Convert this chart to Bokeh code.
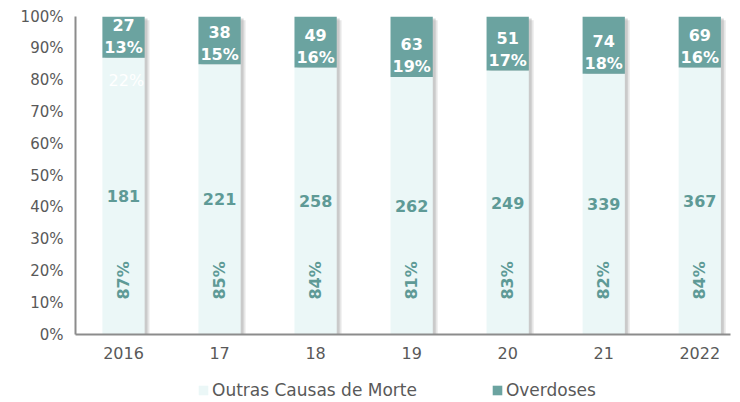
import math
from bokeh.plotting import figure
from bokeh.layouts import column
from bokeh.models import ColumnDataSource, Legend, LegendItem, FixedTicker, Range1d
from bokeh.core.properties import value
from bokeh.embed import file_html
from bokeh.resources import INLINE

years = ["2016", "17", "18", "19", "20", "21", "2022"]
overdoses = [27, 38, 49, 63, 51, 74, 69]
outras = [181, 221, 258, 262, 249, 339, 367]
pct_over = [13, 15, 16, 19, 17, 18, 16]
pct_outras = [87, 85, 84, 81, 83, 82, 84]
series_names = ["Outras Causas de Morte", "Overdoses"]
y_ticks = list(range(0, 101, 10))
y_tick_labels = {t: f"{t}%" for t in y_ticks}

LIGHT = "#EBF7F7"
DARK = "#6BA3A0"
TEAL_TXT = "#5E9A96"
GREY_TXT = "#595959"
AXIS = "#8C8C8C"
FONT = "DejaVu Sans"

xs = list(range(len(years)))
src = ColumnDataSource(dict(
    x=xs,
    xs=[v + 0.05 for v in xs],
    xs2=[v + 0.03 for v in xs],
    year=years,
    over=[str(v) for v in overdoses],
    outr=[str(v) for v in outras],
    po=[f"{v}%" for v in pct_over],
    pr=[f"{v}%" for v in pct_outras],
    b=pct_outras,
    mid_light=[v / 2 for v in pct_outras],
    pct_y=[v + 3.2 for v in pct_outras],
    cnt_y=[v + 10.2 for v in pct_outras],
    rot_y=[17] * len(years),
    top=[100] * len(years),
))

p = figure(frame_width=655, frame_height=318, x_range=Range1d(-0.5, 6.32), y_range=Range1d(0, 100),
           output_backend="svg", toolbar_location=None,
           min_border_left=75, min_border_right=2, min_border_top=16, min_border_bottom=38)
p.outline_line_color = None
p.xgrid.visible = False
p.ygrid.visible = False

# shadow
p.vbar(x="xs", width=0.44, bottom=0, top=98.8, source=src, fill_color="#B8B8B8",
       fill_alpha=0.35, line_color=None)
p.vbar(x="xs2", width=0.44, bottom=0, top=99.4, source=src, fill_color="#A8A8A8",
       fill_alpha=0.45, line_color=None)
light = p.vbar(x="x", width=0.44, bottom=0, top="b", source=src, fill_color=LIGHT, line_color=None)
dark = p.vbar(x="x", width=0.44, bottom="b", top="top", source=src, fill_color=DARK, line_color=None)

# labels in overdose segment
p.text(x="x", y="cnt_y", text="over", source=src, text_color="white", text_font=value(FONT),
       text_font_size="16px", text_font_style="bold", text_align="center", text_baseline="middle")
p.text(x="x", y="pct_y", text="po", source=src, text_color="white", text_font=value(FONT),
       text_font_size="16px", text_font_style="bold", text_align="center", text_baseline="middle")
# labels in other segment
p.text(x="x", y="mid_light", text="outr", source=src, text_color=TEAL_TXT, text_font=value(FONT),
       text_font_size="16px", text_font_style="bold", text_align="center", text_baseline="middle")
p.text(x="x", y="rot_y", text="pr", source=src, text_color=TEAL_TXT, text_font=value(FONT),
       text_font_size="16px", text_font_style="bold", text_align="center", text_baseline="middle",
       angle=math.pi / 2)

# stray white label seen on the first bar
ghost_x = [0.03]
ghost_y = [80]
ghost_t = ["22%"]
p.text(x=ghost_x, y=ghost_y, text=ghost_t, text_color="white", text_font=value(FONT),
       text_font_size="16px", text_align="center", text_baseline="middle")

p.xaxis.ticker = FixedTicker(ticks=xs)
p.xaxis.major_label_overrides = {i: y for i, y in enumerate(years)}
p.yaxis.ticker = FixedTicker(ticks=y_ticks)
p.yaxis.major_label_overrides = y_tick_labels
for ax in (p.xaxis, p.yaxis):
    ax.major_tick_line_color = None
    ax.minor_tick_line_color = None
    ax.major_tick_out = 0
    ax.major_tick_in = 0
    ax.axis_line_color = AXIS
    ax.axis_line_width = 2
    ax.major_label_text_color = GREY_TXT
    ax.major_label_text_font = FONT
    ax.major_label_text_font_size = "15px"
p.xaxis.major_label_text_font_size = "16px"
p.xaxis.major_label_standoff = 12
p.yaxis.major_label_standoff = 12

# legend strip (proxy glyphs sit outside the strip's visible range)
lg = figure(width=732, height=30, x_range=Range1d(0, 1), y_range=Range1d(0, 1),
            output_backend="svg", toolbar_location=None,
            x_axis_location=None, y_axis_location=None, min_border=0)
lg.outline_line_color = None
lg.xgrid.visible = False
lg.ygrid.visible = False
d1 = lg.vbar(x=[-5], bottom=[-5], top=[-4], width=0.1, fill_color=LIGHT, line_color=None)
d2 = lg.vbar(x=[-5], bottom=[-5], top=[-4], width=0.1, fill_color=DARK, line_color=None)
legend = Legend(items=[LegendItem(label=series_names[0], renderers=[d1]),
                       LegendItem(label=series_names[1], renderers=[d2])],
                orientation="horizontal", location=(122, 2),
                label_text_font=FONT, label_text_font_size="17px", label_text_color=GREY_TXT,
                glyph_width=12, glyph_height=12, spacing=74, padding=0, margin=0,
                border_line_color=None, background_fill_alpha=0, label_standoff=3)
lg.add_layout(legend)

layout = column(p, lg, spacing=0)
open("out.html", "w").write(file_html(layout, INLINE))
